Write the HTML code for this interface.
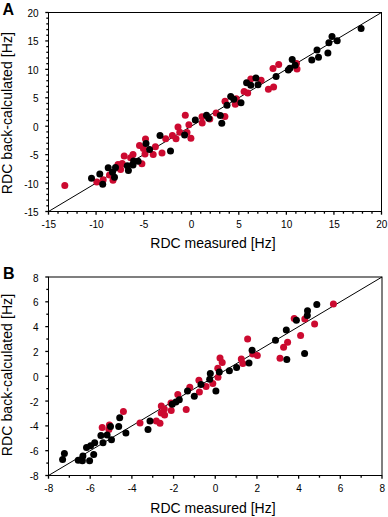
<!DOCTYPE html>
<html><head><meta charset="utf-8"><style>
html,body{margin:0;padding:0;background:#fff;}
svg{display:block;}
circle{stroke:none;}
text{stroke:none;font-family:"Liberation Sans",sans-serif;font-size:10px;fill:#000;}
</style></head><body>
<svg width="388" height="517" viewBox="0 0 388 517">
<g stroke="#000" stroke-width="1">
<text x="2.5" y="15.3" style="font-size:16px;font-weight:bold">A</text>
<line x1="48.5" y1="211.5" x2="381.5" y2="12.5" stroke="#000" stroke-width="1"/>
<line x1="45.3" y1="211.5" x2="48.5" y2="211.5" stroke-width="1.3"/>
<line x1="48.5" y1="211.5" x2="48.5" y2="214.7" stroke-width="1.3"/>
<text x="38.6" y="216" text-anchor="end">-15</text>
<text x="48.8" y="227.7" text-anchor="middle">-15</text>
<line x1="46.3" y1="205.81" x2="48.5" y2="205.81" stroke-width="1.3"/>
<line x1="58.01" y1="211.5" x2="58.01" y2="213.7" stroke-width="1.3"/>
<line x1="46.3" y1="200.13" x2="48.5" y2="200.13" stroke-width="1.3"/>
<line x1="67.53" y1="211.5" x2="67.53" y2="213.7" stroke-width="1.3"/>
<line x1="46.3" y1="194.44" x2="48.5" y2="194.44" stroke-width="1.3"/>
<line x1="77.04" y1="211.5" x2="77.04" y2="213.7" stroke-width="1.3"/>
<line x1="46.3" y1="188.76" x2="48.5" y2="188.76" stroke-width="1.3"/>
<line x1="86.56" y1="211.5" x2="86.56" y2="213.7" stroke-width="1.3"/>
<line x1="45.3" y1="183.07" x2="48.5" y2="183.07" stroke-width="1.3"/>
<line x1="96.07" y1="211.5" x2="96.07" y2="214.7" stroke-width="1.3"/>
<text x="38.6" y="187.57" text-anchor="end">-10</text>
<text x="96.37" y="227.7" text-anchor="middle">-10</text>
<line x1="46.3" y1="177.39" x2="48.5" y2="177.39" stroke-width="1.3"/>
<line x1="105.59" y1="211.5" x2="105.59" y2="213.7" stroke-width="1.3"/>
<line x1="46.3" y1="171.7" x2="48.5" y2="171.7" stroke-width="1.3"/>
<line x1="115.1" y1="211.5" x2="115.1" y2="213.7" stroke-width="1.3"/>
<line x1="46.3" y1="166.01" x2="48.5" y2="166.01" stroke-width="1.3"/>
<line x1="124.61" y1="211.5" x2="124.61" y2="213.7" stroke-width="1.3"/>
<line x1="46.3" y1="160.33" x2="48.5" y2="160.33" stroke-width="1.3"/>
<line x1="134.13" y1="211.5" x2="134.13" y2="213.7" stroke-width="1.3"/>
<line x1="45.3" y1="154.64" x2="48.5" y2="154.64" stroke-width="1.3"/>
<line x1="143.64" y1="211.5" x2="143.64" y2="214.7" stroke-width="1.3"/>
<text x="38.6" y="159.14" text-anchor="end">-5</text>
<text x="143.94" y="227.7" text-anchor="middle">-5</text>
<line x1="46.3" y1="148.96" x2="48.5" y2="148.96" stroke-width="1.3"/>
<line x1="153.16" y1="211.5" x2="153.16" y2="213.7" stroke-width="1.3"/>
<line x1="46.3" y1="143.27" x2="48.5" y2="143.27" stroke-width="1.3"/>
<line x1="162.67" y1="211.5" x2="162.67" y2="213.7" stroke-width="1.3"/>
<line x1="46.3" y1="137.59" x2="48.5" y2="137.59" stroke-width="1.3"/>
<line x1="172.19" y1="211.5" x2="172.19" y2="213.7" stroke-width="1.3"/>
<line x1="46.3" y1="131.9" x2="48.5" y2="131.9" stroke-width="1.3"/>
<line x1="181.7" y1="211.5" x2="181.7" y2="213.7" stroke-width="1.3"/>
<line x1="45.3" y1="126.21" x2="48.5" y2="126.21" stroke-width="1.3"/>
<line x1="191.21" y1="211.5" x2="191.21" y2="214.7" stroke-width="1.3"/>
<text x="38.6" y="130.71" text-anchor="end">0</text>
<text x="191.51" y="227.7" text-anchor="middle">0</text>
<line x1="46.3" y1="120.53" x2="48.5" y2="120.53" stroke-width="1.3"/>
<line x1="200.73" y1="211.5" x2="200.73" y2="213.7" stroke-width="1.3"/>
<line x1="46.3" y1="114.84" x2="48.5" y2="114.84" stroke-width="1.3"/>
<line x1="210.24" y1="211.5" x2="210.24" y2="213.7" stroke-width="1.3"/>
<line x1="46.3" y1="109.16" x2="48.5" y2="109.16" stroke-width="1.3"/>
<line x1="219.76" y1="211.5" x2="219.76" y2="213.7" stroke-width="1.3"/>
<line x1="46.3" y1="103.47" x2="48.5" y2="103.47" stroke-width="1.3"/>
<line x1="229.27" y1="211.5" x2="229.27" y2="213.7" stroke-width="1.3"/>
<line x1="45.3" y1="97.79" x2="48.5" y2="97.79" stroke-width="1.3"/>
<line x1="238.79" y1="211.5" x2="238.79" y2="214.7" stroke-width="1.3"/>
<text x="38.6" y="102.29" text-anchor="end">5</text>
<text x="239.09" y="227.7" text-anchor="middle">5</text>
<line x1="46.3" y1="92.1" x2="48.5" y2="92.1" stroke-width="1.3"/>
<line x1="248.3" y1="211.5" x2="248.3" y2="213.7" stroke-width="1.3"/>
<line x1="46.3" y1="86.41" x2="48.5" y2="86.41" stroke-width="1.3"/>
<line x1="257.81" y1="211.5" x2="257.81" y2="213.7" stroke-width="1.3"/>
<line x1="46.3" y1="80.73" x2="48.5" y2="80.73" stroke-width="1.3"/>
<line x1="267.33" y1="211.5" x2="267.33" y2="213.7" stroke-width="1.3"/>
<line x1="46.3" y1="75.04" x2="48.5" y2="75.04" stroke-width="1.3"/>
<line x1="276.84" y1="211.5" x2="276.84" y2="213.7" stroke-width="1.3"/>
<line x1="45.3" y1="69.36" x2="48.5" y2="69.36" stroke-width="1.3"/>
<line x1="286.36" y1="211.5" x2="286.36" y2="214.7" stroke-width="1.3"/>
<text x="38.6" y="73.86" text-anchor="end">10</text>
<text x="286.66" y="227.7" text-anchor="middle">10</text>
<line x1="46.3" y1="63.67" x2="48.5" y2="63.67" stroke-width="1.3"/>
<line x1="295.87" y1="211.5" x2="295.87" y2="213.7" stroke-width="1.3"/>
<line x1="46.3" y1="57.99" x2="48.5" y2="57.99" stroke-width="1.3"/>
<line x1="305.39" y1="211.5" x2="305.39" y2="213.7" stroke-width="1.3"/>
<line x1="46.3" y1="52.3" x2="48.5" y2="52.3" stroke-width="1.3"/>
<line x1="314.9" y1="211.5" x2="314.9" y2="213.7" stroke-width="1.3"/>
<line x1="46.3" y1="46.61" x2="48.5" y2="46.61" stroke-width="1.3"/>
<line x1="324.41" y1="211.5" x2="324.41" y2="213.7" stroke-width="1.3"/>
<line x1="45.3" y1="40.93" x2="48.5" y2="40.93" stroke-width="1.3"/>
<line x1="333.93" y1="211.5" x2="333.93" y2="214.7" stroke-width="1.3"/>
<text x="38.6" y="45.43" text-anchor="end">15</text>
<text x="334.23" y="227.7" text-anchor="middle">15</text>
<line x1="46.3" y1="35.24" x2="48.5" y2="35.24" stroke-width="1.3"/>
<line x1="343.44" y1="211.5" x2="343.44" y2="213.7" stroke-width="1.3"/>
<line x1="46.3" y1="29.56" x2="48.5" y2="29.56" stroke-width="1.3"/>
<line x1="352.96" y1="211.5" x2="352.96" y2="213.7" stroke-width="1.3"/>
<line x1="46.3" y1="23.87" x2="48.5" y2="23.87" stroke-width="1.3"/>
<line x1="362.47" y1="211.5" x2="362.47" y2="213.7" stroke-width="1.3"/>
<line x1="46.3" y1="18.19" x2="48.5" y2="18.19" stroke-width="1.3"/>
<line x1="371.99" y1="211.5" x2="371.99" y2="213.7" stroke-width="1.3"/>
<line x1="45.3" y1="12.5" x2="48.5" y2="12.5" stroke-width="1.3"/>
<line x1="381.5" y1="211.5" x2="381.5" y2="214.7" stroke-width="1.3"/>
<text x="38.6" y="17" text-anchor="end">20</text>
<text x="381.8" y="227.7" text-anchor="middle">20</text>
<rect x="48.5" y="12.5" width="333" height="199" fill="none" stroke="#000" stroke-width="1"/>
<circle cx="64.8" cy="185.4" r="3.5" fill="#cc0a30"/>
<circle cx="96.8" cy="182" r="3.5" fill="#cc0a30"/>
<circle cx="103.2" cy="179.8" r="3.5" fill="#cc0a30"/>
<circle cx="109.5" cy="175" r="3.5" fill="#cc0a30"/>
<circle cx="113" cy="180.2" r="3.5" fill="#cc0a30"/>
<circle cx="118" cy="164.4" r="3.5" fill="#cc0a30"/>
<circle cx="120.6" cy="169.6" r="3.5" fill="#cc0a30"/>
<circle cx="124.2" cy="156" r="3.5" fill="#cc0a30"/>
<circle cx="133" cy="154.4" r="3.5" fill="#cc0a30"/>
<circle cx="130.6" cy="157.8" r="3.5" fill="#cc0a30"/>
<circle cx="139.5" cy="145.5" r="3.5" fill="#cc0a30"/>
<circle cx="145.5" cy="139" r="3.5" fill="#cc0a30"/>
<circle cx="143.4" cy="148.4" r="3.5" fill="#cc0a30"/>
<circle cx="155.4" cy="146.7" r="3.5" fill="#cc0a30"/>
<circle cx="145" cy="154" r="3.5" fill="#cc0a30"/>
<circle cx="153.2" cy="154.6" r="3.5" fill="#cc0a30"/>
<circle cx="162" cy="153" r="3.5" fill="#cc0a30"/>
<circle cx="165.7" cy="138.7" r="3.5" fill="#cc0a30"/>
<circle cx="141.9" cy="163.8" r="3.5" fill="#cc0a30"/>
<circle cx="185.3" cy="115.3" r="3.5" fill="#cc0a30"/>
<circle cx="188.9" cy="124.7" r="3.5" fill="#cc0a30"/>
<circle cx="178" cy="127" r="3.5" fill="#cc0a30"/>
<circle cx="179.8" cy="132.2" r="3.5" fill="#cc0a30"/>
<circle cx="172.4" cy="135.6" r="3.5" fill="#cc0a30"/>
<circle cx="176" cy="138.7" r="3.5" fill="#cc0a30"/>
<circle cx="190.9" cy="138.2" r="3.5" fill="#cc0a30"/>
<circle cx="202.2" cy="123" r="3.5" fill="#cc0a30"/>
<circle cx="202" cy="116.8" r="3.5" fill="#cc0a30"/>
<circle cx="216.1" cy="113" r="3.5" fill="#cc0a30"/>
<circle cx="224.9" cy="116.6" r="3.5" fill="#cc0a30"/>
<circle cx="225" cy="101.2" r="3.5" fill="#cc0a30"/>
<circle cx="236.3" cy="98.7" r="3.5" fill="#cc0a30"/>
<circle cx="235.3" cy="104.3" r="3.5" fill="#cc0a30"/>
<circle cx="244.1" cy="91.4" r="3.5" fill="#cc0a30"/>
<circle cx="247.7" cy="93" r="3.5" fill="#cc0a30"/>
<circle cx="250.8" cy="79.1" r="3.5" fill="#cc0a30"/>
<circle cx="261.1" cy="80.2" r="3.5" fill="#cc0a30"/>
<circle cx="273" cy="68.6" r="3.5" fill="#cc0a30"/>
<circle cx="278.7" cy="64.4" r="3.5" fill="#cc0a30"/>
<circle cx="268.4" cy="89.2" r="3.5" fill="#cc0a30"/>
<circle cx="273.6" cy="87.1" r="3.5" fill="#cc0a30"/>
<circle cx="297" cy="69" r="3.5" fill="#cc0a30"/>
<circle cx="187" cy="132.5" r="3.5" fill="#cc0a30"/>
<circle cx="296.5" cy="63.4" r="3.5" fill="#cc0a30"/>
<circle cx="122.2" cy="163.6" r="3.5" fill="#cc0a30"/>
<circle cx="209.8" cy="119" r="3.5" fill="#cc0a30"/>
<circle cx="91.5" cy="178.2" r="3.5" fill="#000"/>
<circle cx="99.8" cy="174" r="3.5" fill="#000"/>
<circle cx="102.7" cy="184.2" r="3.5" fill="#000"/>
<circle cx="108.2" cy="167.8" r="3.5" fill="#000"/>
<circle cx="115.5" cy="167.5" r="3.5" fill="#000"/>
<circle cx="112.5" cy="172.2" r="3.5" fill="#000"/>
<circle cx="114.5" cy="177.2" r="3.5" fill="#000"/>
<circle cx="127.3" cy="165.8" r="3.5" fill="#000"/>
<circle cx="128.4" cy="170.4" r="3.5" fill="#000"/>
<circle cx="133.6" cy="160.9" r="3.5" fill="#000"/>
<circle cx="133" cy="165" r="3.5" fill="#000"/>
<circle cx="138.1" cy="161.2" r="3.5" fill="#000"/>
<circle cx="146" cy="143.4" r="3.5" fill="#000"/>
<circle cx="149.6" cy="149.5" r="3.5" fill="#000"/>
<circle cx="160" cy="135.4" r="3.5" fill="#000"/>
<circle cx="170.5" cy="151" r="3.5" fill="#000"/>
<circle cx="195.3" cy="120.1" r="3.5" fill="#000"/>
<circle cx="184.6" cy="135" r="3.5" fill="#000"/>
<circle cx="206.5" cy="115.3" r="3.5" fill="#000"/>
<circle cx="208.6" cy="118.2" r="3.5" fill="#000"/>
<circle cx="220.3" cy="115.6" r="3.5" fill="#000"/>
<circle cx="221.8" cy="123.3" r="3.5" fill="#000"/>
<circle cx="227" cy="105.3" r="3.5" fill="#000"/>
<circle cx="230.7" cy="96.6" r="3.5" fill="#000"/>
<circle cx="233.8" cy="99.2" r="3.5" fill="#000"/>
<circle cx="241" cy="102.8" r="3.5" fill="#000"/>
<circle cx="246.6" cy="82.7" r="3.5" fill="#000"/>
<circle cx="250.8" cy="85.3" r="3.5" fill="#000"/>
<circle cx="255.9" cy="78" r="3.5" fill="#000"/>
<circle cx="258" cy="84.7" r="3.5" fill="#000"/>
<circle cx="276.1" cy="76.6" r="3.5" fill="#000"/>
<circle cx="288.3" cy="70.1" r="3.5" fill="#000"/>
<circle cx="292.2" cy="59.6" r="3.5" fill="#000"/>
<circle cx="295.1" cy="65.2" r="3.5" fill="#000"/>
<circle cx="317" cy="50.1" r="3.5" fill="#000"/>
<circle cx="311.8" cy="59.9" r="3.5" fill="#000"/>
<circle cx="318.5" cy="57.3" r="3.5" fill="#000"/>
<circle cx="332" cy="36.6" r="3.5" fill="#000"/>
<circle cx="328.9" cy="42.8" r="3.5" fill="#000"/>
<circle cx="337.2" cy="40.8" r="3.5" fill="#000"/>
<circle cx="327.9" cy="53.1" r="3.5" fill="#000"/>
<circle cx="361.1" cy="28.6" r="3.5" fill="#000"/>
<circle cx="289.9" cy="68.2" r="3.5" fill="#000"/>
<text x="3" y="279.2" style="font-size:16px;font-weight:bold">B</text>
<line x1="48.5" y1="475.5" x2="382" y2="277" stroke="#000" stroke-width="1"/>
<line x1="45.3" y1="475.5" x2="48.5" y2="475.5" stroke-width="1.3"/>
<line x1="48.5" y1="475.5" x2="48.5" y2="478.7" stroke-width="1.3"/>
<text x="38.6" y="480" text-anchor="end">-8</text>
<text x="48.8" y="491.7" text-anchor="middle">-8</text>
<line x1="46.3" y1="463.09" x2="48.5" y2="463.09" stroke-width="1.3"/>
<line x1="69.34" y1="475.5" x2="69.34" y2="477.7" stroke-width="1.3"/>
<line x1="45.3" y1="450.69" x2="48.5" y2="450.69" stroke-width="1.3"/>
<line x1="90.19" y1="475.5" x2="90.19" y2="478.7" stroke-width="1.3"/>
<text x="38.6" y="455.19" text-anchor="end">-6</text>
<text x="90.49" y="491.7" text-anchor="middle">-6</text>
<line x1="46.3" y1="438.28" x2="48.5" y2="438.28" stroke-width="1.3"/>
<line x1="111.03" y1="475.5" x2="111.03" y2="477.7" stroke-width="1.3"/>
<line x1="45.3" y1="425.88" x2="48.5" y2="425.88" stroke-width="1.3"/>
<line x1="131.88" y1="475.5" x2="131.88" y2="478.7" stroke-width="1.3"/>
<text x="38.6" y="430.38" text-anchor="end">-4</text>
<text x="132.18" y="491.7" text-anchor="middle">-4</text>
<line x1="46.3" y1="413.47" x2="48.5" y2="413.47" stroke-width="1.3"/>
<line x1="152.72" y1="475.5" x2="152.72" y2="477.7" stroke-width="1.3"/>
<line x1="45.3" y1="401.06" x2="48.5" y2="401.06" stroke-width="1.3"/>
<line x1="173.56" y1="475.5" x2="173.56" y2="478.7" stroke-width="1.3"/>
<text x="38.6" y="405.56" text-anchor="end">-2</text>
<text x="173.86" y="491.7" text-anchor="middle">-2</text>
<line x1="46.3" y1="388.66" x2="48.5" y2="388.66" stroke-width="1.3"/>
<line x1="194.41" y1="475.5" x2="194.41" y2="477.7" stroke-width="1.3"/>
<line x1="45.3" y1="376.25" x2="48.5" y2="376.25" stroke-width="1.3"/>
<line x1="215.25" y1="475.5" x2="215.25" y2="478.7" stroke-width="1.3"/>
<text x="38.6" y="380.75" text-anchor="end">0</text>
<text x="215.55" y="491.7" text-anchor="middle">0</text>
<line x1="46.3" y1="363.84" x2="48.5" y2="363.84" stroke-width="1.3"/>
<line x1="236.09" y1="475.5" x2="236.09" y2="477.7" stroke-width="1.3"/>
<line x1="45.3" y1="351.44" x2="48.5" y2="351.44" stroke-width="1.3"/>
<line x1="256.94" y1="475.5" x2="256.94" y2="478.7" stroke-width="1.3"/>
<text x="38.6" y="355.94" text-anchor="end">2</text>
<text x="257.24" y="491.7" text-anchor="middle">2</text>
<line x1="46.3" y1="339.03" x2="48.5" y2="339.03" stroke-width="1.3"/>
<line x1="277.78" y1="475.5" x2="277.78" y2="477.7" stroke-width="1.3"/>
<line x1="45.3" y1="326.62" x2="48.5" y2="326.62" stroke-width="1.3"/>
<line x1="298.62" y1="475.5" x2="298.62" y2="478.7" stroke-width="1.3"/>
<text x="38.6" y="331.12" text-anchor="end">4</text>
<text x="298.93" y="491.7" text-anchor="middle">4</text>
<line x1="46.3" y1="314.22" x2="48.5" y2="314.22" stroke-width="1.3"/>
<line x1="319.47" y1="475.5" x2="319.47" y2="477.7" stroke-width="1.3"/>
<line x1="45.3" y1="301.81" x2="48.5" y2="301.81" stroke-width="1.3"/>
<line x1="340.31" y1="475.5" x2="340.31" y2="478.7" stroke-width="1.3"/>
<text x="38.6" y="306.31" text-anchor="end">6</text>
<text x="340.61" y="491.7" text-anchor="middle">6</text>
<line x1="46.3" y1="289.41" x2="48.5" y2="289.41" stroke-width="1.3"/>
<line x1="361.16" y1="475.5" x2="361.16" y2="477.7" stroke-width="1.3"/>
<line x1="45.3" y1="277" x2="48.5" y2="277" stroke-width="1.3"/>
<line x1="382" y1="475.5" x2="382" y2="478.7" stroke-width="1.3"/>
<text x="38.6" y="281.5" text-anchor="end">8</text>
<text x="382.3" y="491.7" text-anchor="middle">8</text>
<rect x="48.5" y="277" width="333.5" height="198.5" fill="none" stroke="#000" stroke-width="1"/>
<circle cx="102.2" cy="427.5" r="3.5" fill="#cc0a30"/>
<circle cx="109.4" cy="424.9" r="3.5" fill="#cc0a30"/>
<circle cx="108.9" cy="429.5" r="3.5" fill="#cc0a30"/>
<circle cx="123.4" cy="411.5" r="3.5" fill="#cc0a30"/>
<circle cx="140" cy="423" r="3.5" fill="#cc0a30"/>
<circle cx="156.3" cy="421.1" r="3.5" fill="#cc0a30"/>
<circle cx="160" cy="423.3" r="3.5" fill="#cc0a30"/>
<circle cx="161.3" cy="406" r="3.5" fill="#cc0a30"/>
<circle cx="164.3" cy="408.9" r="3.5" fill="#cc0a30"/>
<circle cx="161.2" cy="413" r="3.5" fill="#cc0a30"/>
<circle cx="164.6" cy="415.1" r="3.5" fill="#cc0a30"/>
<circle cx="171.2" cy="410.5" r="3.5" fill="#cc0a30"/>
<circle cx="171" cy="403" r="3.5" fill="#cc0a30"/>
<circle cx="177.8" cy="394.4" r="3.5" fill="#cc0a30"/>
<circle cx="186.2" cy="409.4" r="3.5" fill="#cc0a30"/>
<circle cx="189.8" cy="387.2" r="3.5" fill="#cc0a30"/>
<circle cx="199.4" cy="392.1" r="3.5" fill="#cc0a30"/>
<circle cx="198.9" cy="380.3" r="3.5" fill="#cc0a30"/>
<circle cx="206.1" cy="386.4" r="3.5" fill="#cc0a30"/>
<circle cx="212.8" cy="383.4" r="3.5" fill="#cc0a30"/>
<circle cx="218" cy="377.2" r="3.5" fill="#cc0a30"/>
<circle cx="217.8" cy="368.3" r="3.5" fill="#cc0a30"/>
<circle cx="220" cy="358" r="3.5" fill="#cc0a30"/>
<circle cx="222.2" cy="362.6" r="3.5" fill="#cc0a30"/>
<circle cx="241.3" cy="358.9" r="3.5" fill="#cc0a30"/>
<circle cx="242.8" cy="363.5" r="3.5" fill="#cc0a30"/>
<circle cx="252.8" cy="354" r="3.5" fill="#cc0a30"/>
<circle cx="247.6" cy="338.9" r="3.5" fill="#cc0a30"/>
<circle cx="257.3" cy="355.5" r="3.5" fill="#cc0a30"/>
<circle cx="294.2" cy="318.5" r="3.5" fill="#cc0a30"/>
<circle cx="304.8" cy="319.1" r="3.5" fill="#cc0a30"/>
<circle cx="333.4" cy="304" r="3.5" fill="#cc0a30"/>
<circle cx="314.6" cy="324.1" r="3.5" fill="#cc0a30"/>
<circle cx="300.6" cy="335.6" r="3.5" fill="#cc0a30"/>
<circle cx="287.6" cy="342.2" r="3.5" fill="#cc0a30"/>
<circle cx="283.6" cy="347.2" r="3.5" fill="#cc0a30"/>
<circle cx="280" cy="358.3" r="3.5" fill="#cc0a30"/>
<circle cx="64.4" cy="453.5" r="3.5" fill="#000"/>
<circle cx="62.6" cy="459.5" r="3.5" fill="#000"/>
<circle cx="78.2" cy="460.2" r="3.5" fill="#000"/>
<circle cx="82.9" cy="456.1" r="3.5" fill="#000"/>
<circle cx="82.4" cy="460.7" r="3.5" fill="#000"/>
<circle cx="89.6" cy="460.7" r="3.5" fill="#000"/>
<circle cx="93.7" cy="454.5" r="3.5" fill="#000"/>
<circle cx="86.5" cy="447.6" r="3.5" fill="#000"/>
<circle cx="90.6" cy="445.8" r="3.5" fill="#000"/>
<circle cx="94.7" cy="442.7" r="3.5" fill="#000"/>
<circle cx="103" cy="442.7" r="3.5" fill="#000"/>
<circle cx="100.9" cy="435.5" r="3.5" fill="#000"/>
<circle cx="107.1" cy="435" r="3.5" fill="#000"/>
<circle cx="110.5" cy="426.4" r="3.5" fill="#000"/>
<circle cx="111.5" cy="439.8" r="3.5" fill="#000"/>
<circle cx="118.7" cy="426.4" r="3.5" fill="#000"/>
<circle cx="119.7" cy="417.7" r="3.5" fill="#000"/>
<circle cx="125.9" cy="433.1" r="3.5" fill="#000"/>
<circle cx="150" cy="421.1" r="3.5" fill="#000"/>
<circle cx="148" cy="429.4" r="3.5" fill="#000"/>
<circle cx="172.2" cy="404.3" r="3.5" fill="#000"/>
<circle cx="175.9" cy="402" r="3.5" fill="#000"/>
<circle cx="179.3" cy="399.8" r="3.5" fill="#000"/>
<circle cx="187.5" cy="391" r="3.5" fill="#000"/>
<circle cx="194.3" cy="396.2" r="3.5" fill="#000"/>
<circle cx="201" cy="384.4" r="3.5" fill="#000"/>
<circle cx="210.3" cy="373.6" r="3.5" fill="#000"/>
<circle cx="209.7" cy="379.2" r="3.5" fill="#000"/>
<circle cx="215.9" cy="391.1" r="3.5" fill="#000"/>
<circle cx="219.3" cy="371.9" r="3.5" fill="#000"/>
<circle cx="229.4" cy="370.7" r="3.5" fill="#000"/>
<circle cx="236.6" cy="367.6" r="3.5" fill="#000"/>
<circle cx="249" cy="363" r="3.5" fill="#000"/>
<circle cx="252.1" cy="350.2" r="3.5" fill="#000"/>
<circle cx="275.5" cy="340.3" r="3.5" fill="#000"/>
<circle cx="286.3" cy="330.1" r="3.5" fill="#000"/>
<circle cx="296.4" cy="320.3" r="3.5" fill="#000"/>
<circle cx="307.5" cy="310.8" r="3.5" fill="#000"/>
<circle cx="307.3" cy="315.4" r="3.5" fill="#000"/>
<circle cx="316.8" cy="304.6" r="3.5" fill="#000"/>
<circle cx="286.8" cy="359.6" r="3.5" fill="#000"/>
<circle cx="304.6" cy="353.5" r="3.5" fill="#000"/>
<text x="213" y="247.5" style="font-size:14px" text-anchor="middle">RDC measured [Hz]</text>
<text x="213" y="513.2" style="font-size:14px" text-anchor="middle">RDC measured [Hz]</text>
<text transform="translate(11.6,113.1) rotate(-90)" style="font-size:14px;letter-spacing:0.085px" text-anchor="middle">RDC back-calculated [Hz]</text>
<text transform="translate(11.6,375.0) rotate(-90)" style="font-size:14px;letter-spacing:0.085px" text-anchor="middle">RDC back-calculated [Hz]</text>
</g>
</svg>
</body></html>
